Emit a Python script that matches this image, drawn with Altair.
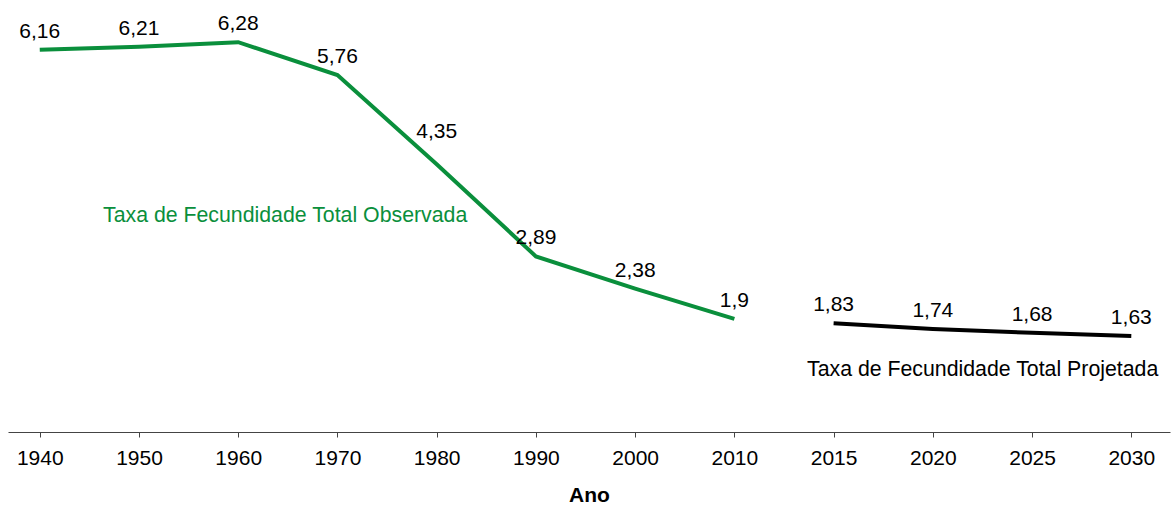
import altair as alt
import pandas as pd

# Years shown on the axis (evenly spaced categories)
years = ["1940", "1950", "1960", "1970", "1980", "1990", "2000", "2010",
         "2015", "2020", "2025", "2030"]

# Observed total fertility rate (1940-2010)
observed_years = ["1940", "1950", "1960", "1970", "1980", "1990", "2000", "2010"]
observed_values = [6.16, 6.21, 6.28, 5.76, 4.35, 2.89, 2.38, 1.9]

# Projected total fertility rate (2015-2030)
projected_years = ["2015", "2020", "2025", "2030"]
projected_values = [1.83, 1.74, 1.68, 1.63]

GREEN = "#0a8f3c"
FONT = "Liberation Sans"
FS = 21

rows = []
for y, v in zip(observed_years, observed_values):
    rows.append({"ano": y, "idx": years.index(y), "taxa": v, "serie": "Observada"})
for y, v in zip(projected_years, projected_values):
    rows.append({"ano": y, "idx": years.index(y), "taxa": v, "serie": "Projetada"})
df = pd.DataFrame(rows)

label_expr = "[" + ",".join(f"'{y}'" for y in years) + "][datum.value]"

x_enc = alt.X(
    "idx:Q",
    scale=alt.Scale(domain=[-0.32, 11.39], nice=False, zero=False),
    axis=alt.Axis(
        values=list(range(len(years))),
        labelExpr=label_expr,
        title="Ano",
        grid=False,
        domainColor="#444444",
        domainWidth=1.2,
        tickColor="#444444",
        tickSize=5,
        labelPadding=10,
        labelFontSize=FS,
        labelFont=FONT,
        labelColor="#000000",
        titleFont=FONT,
        titleFontSize=FS,
        titleFontWeight="bold",
        titleColor="#000000",
        titlePadding=16,
    ),
)
y_enc = alt.Y("taxa:Q", scale=alt.Scale(domain=[0.11, 6.79], nice=False, zero=False), axis=None)

base = alt.Chart(df)

obs_line = base.transform_filter("datum.serie == 'Observada'").mark_line(
    color=GREEN, strokeWidth=4
).encode(x=x_enc, y=y_enc)

proj_line = base.transform_filter("datum.serie == 'Projetada'").mark_line(
    color="#000000", strokeWidth=4
).encode(x=x_enc, y=y_enc)

labels = base.transform_calculate(
    rotulo="replace(toString(datum.taxa), '.', ',')"
)

value_labels = labels.transform_filter("datum.ano != '1980'").mark_text(
    font=FONT, fontSize=FS, color="#000000", dy=-18
).encode(x=x_enc, y=y_enc, text="rotulo:N")

value_label_1980 = labels.transform_filter("datum.ano == '1980'").mark_text(
    font=FONT, fontSize=FS, color="#000000", dy=-32
).encode(x=x_enc, y=y_enc, text="rotulo:N")

note_obs = alt.Chart(pd.DataFrame({"t": ["Taxa de Fecundidade Total Observada"]})).mark_text(
    font=FONT, fontSize=21.3, color=GREEN, align="left", baseline="middle"
).encode(x=alt.value(95), y=alt.value(206), text="t:N")

note_proj = alt.Chart(pd.DataFrame({"t": ["Taxa de Fecundidade Total Projetada"]})).mark_text(
    font=FONT, fontSize=21.3, color="#000000", align="left", baseline="middle"
).encode(x=alt.value(799), y=alt.value(360), text="t:N")

chart = alt.layer(
    obs_line, proj_line, value_labels, value_label_1980, note_obs, note_proj
).properties(
    width=1162,
    height=422,
    autosize=alt.AutoSizeParams(type="none"),
    padding={"left": 8, "top": 10, "right": 1, "bottom": 74},
    background="#ffffff",
).configure_view(stroke=None)

chart.save("out.html", embed_options={"renderer": "svg", "actions": False})
